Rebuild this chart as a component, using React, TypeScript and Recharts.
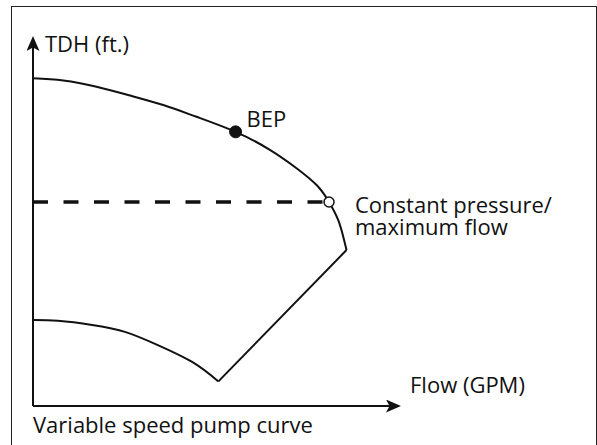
import { LineChart, Line, XAxis, YAxis, ReferenceDot, Label } from "recharts";

// Pump curve, both axes in % of the plot area (no scale shown)
const upperCurve = [
  { x: 0, y: 89.3 },
  { x: 8.3, y: 88.7 },
  { x: 17.4, y: 87.0 },
  { x: 26.6, y: 84.6 },
  { x: 35.7, y: 82.0 },
  { x: 44.8, y: 78.8 },
  { x: 55.5, y: 74.7 },
  { x: 64.9, y: 69.8 },
  { x: 72.2, y: 64.8 },
  { x: 77.7, y: 60.2 },
  { x: 81.1, y: 55.6 },
  { x: 83.6, y: 50.7 },
  { x: 85.0, y: 46.1 },
  { x: 85.9, y: 42.5 },
];

const lowerCurve = [
  { x: 0, y: 23.4 },
  { x: 6.8, y: 23.2 },
  { x: 16.2, y: 22.1 },
  { x: 25.2, y: 20.2 },
  { x: 34.2, y: 16.6 },
  { x: 43.6, y: 12.0 },
  { x: 50.8, y: 6.7 },
];

const returnLine = [
  { x: 85.9, y: 42.5 },
  { x: 50.8, y: 6.7 },
];

const constantPressure = [
  { x: 0, y: 55.6 },
  { x: 81.1, y: 55.6 },
];

const bepPoint = { x: 55.5, y: 74.7 };
const maxFlowPoint = { x: 81.1, y: 55.6 };

const Y_LABEL = "TDH (ft.)";
const X_LABEL = "Flow (GPM)";
const CAPTION = "Variable speed pump curve";
const BEP_LABEL = "BEP";
const MAX_FLOW_LABEL = ["Constant pressure/", "maximum flow"];

const INK = "#111";
const FONT = 22;

export default function App() {
  return (
    <div
      style={{
        position: "absolute",
        left: 0,
        top: 0,
        width: 597,
        height: 445,
        overflow: "hidden",
        background: "#fff",
      }}
    >
      <svg width={0} height={0} style={{ position: "absolute" }}>
        <defs>
          <marker
            id="axisArrow"
            markerUnits="userSpaceOnUse"
            viewBox="0 0 15 13"
            markerWidth={15}
            markerHeight={13}
            refX={12}
            refY={6.5}
            orient="auto-start-reverse"
          >
            <path d="M0,0 L15,6.5 L0,13 L3.5,6.5 Z" fill={INK} />
          </marker>
        </defs>
      </svg>
      <div
        style={{
          position: "absolute",
          left: 11,
          top: 6,
          width: 585.5,
          height: 500,
          boxSizing: "border-box",
          borderTop: "1.5px solid #222",
          borderLeft: "1.5px solid #222",
          borderRight: "1.5px solid #222",
        }}
      />
      <LineChart
        width={597}
        height={445}
        margin={{ top: 39, left: 32, right: 199, bottom: 38 }}
        style={{ position: "absolute", left: 0, top: 0, fontFamily: '"Open Sans", sans-serif' }}
      >
        <XAxis
          type="number"
          dataKey="x"
          domain={[0, 100]}
          height={1}
          tick={false}
          tickLine={false}
          axisLine={{ stroke: INK, strokeWidth: 2, markerEnd: "url(#axisArrow)" }}
        >
          <Label
            content={({ viewBox }: any) => {
              const vb = viewBox ?? { x: 33, y: 406, width: 365 };
              return (
                <g fill={INK} fontSize={FONT}>
                  <text x={vb.x + vb.width + 12} y={vb.y - 13}>
                    {X_LABEL}
                  </text>
                  <text x={vb.x} y={vb.y + 27}>
                    {CAPTION}
                  </text>
                </g>
              );
            }}
          />
        </XAxis>
        <YAxis
          type="number"
          dataKey="y"
          domain={[0, 100]}
          width={1}
          tick={false}
          tickLine={false}
          axisLine={{ stroke: INK, strokeWidth: 2, markerStart: "url(#axisArrow)" }}
        >
          <Label
            content={({ viewBox }: any) => {
              const vb = viewBox ?? { x: 32, y: 39, width: 1 };
              return (
                <text x={vb.x + vb.width + 12} y={vb.y + 13} fill={INK} fontSize={FONT}>
                  {Y_LABEL}
                </text>
              );
            }}
          />
        </YAxis>

        <Line
          data={constantPressure}
          dataKey="y"
          type="linear"
          stroke={INK}
          strokeWidth={3.5}
          strokeDasharray="15 15.5"
          dot={false}
          activeDot={false}
          isAnimationActive={false}
        />
        <Line
          data={upperCurve}
          dataKey="y"
          type="natural"
          stroke={INK}
          strokeWidth={2}
          dot={false}
          activeDot={false}
          isAnimationActive={false}
        />
        <Line
          data={returnLine}
          dataKey="y"
          type="linear"
          stroke={INK}
          strokeWidth={2}
          dot={false}
          activeDot={false}
          isAnimationActive={false}
        />
        <Line
          data={lowerCurve}
          dataKey="y"
          type="natural"
          stroke={INK}
          strokeWidth={2}
          dot={false}
          activeDot={false}
          isAnimationActive={false}
        />

        <ReferenceDot
          x={bepPoint.x}
          y={bepPoint.y}
          r={6}
          fill={INK}
          stroke={INK}
          strokeWidth={1}
          label={{
            content: ({ viewBox }: any) => {
              const cx = viewBox.x + viewBox.width / 2;
              const cy = viewBox.y + viewBox.height / 2;
              return (
                <text x={cx + 11} y={cy - 5} fill={INK} fontSize={FONT}>
                  {BEP_LABEL}
                </text>
              );
            },
          }}
        />
        <ReferenceDot
          x={maxFlowPoint.x}
          y={maxFlowPoint.y}
          r={5}
          fill="#fff"
          stroke={INK}
          strokeWidth={1.5}
          label={{
            content: ({ viewBox }: any) => {
              const cx = viewBox.x + viewBox.width / 2;
              const cy = viewBox.y + viewBox.height / 2;
              return (
                <g fill={INK} fontSize={FONT}>
                  <text x={cx + 26} y={cy + 11}>
                    {MAX_FLOW_LABEL[0]}
                  </text>
                  <text x={cx + 26} y={cy + 33}>
                    {MAX_FLOW_LABEL[1]}
                  </text>
                </g>
              );
            },
          }}
        />
      </LineChart>
    </div>
  );
}
